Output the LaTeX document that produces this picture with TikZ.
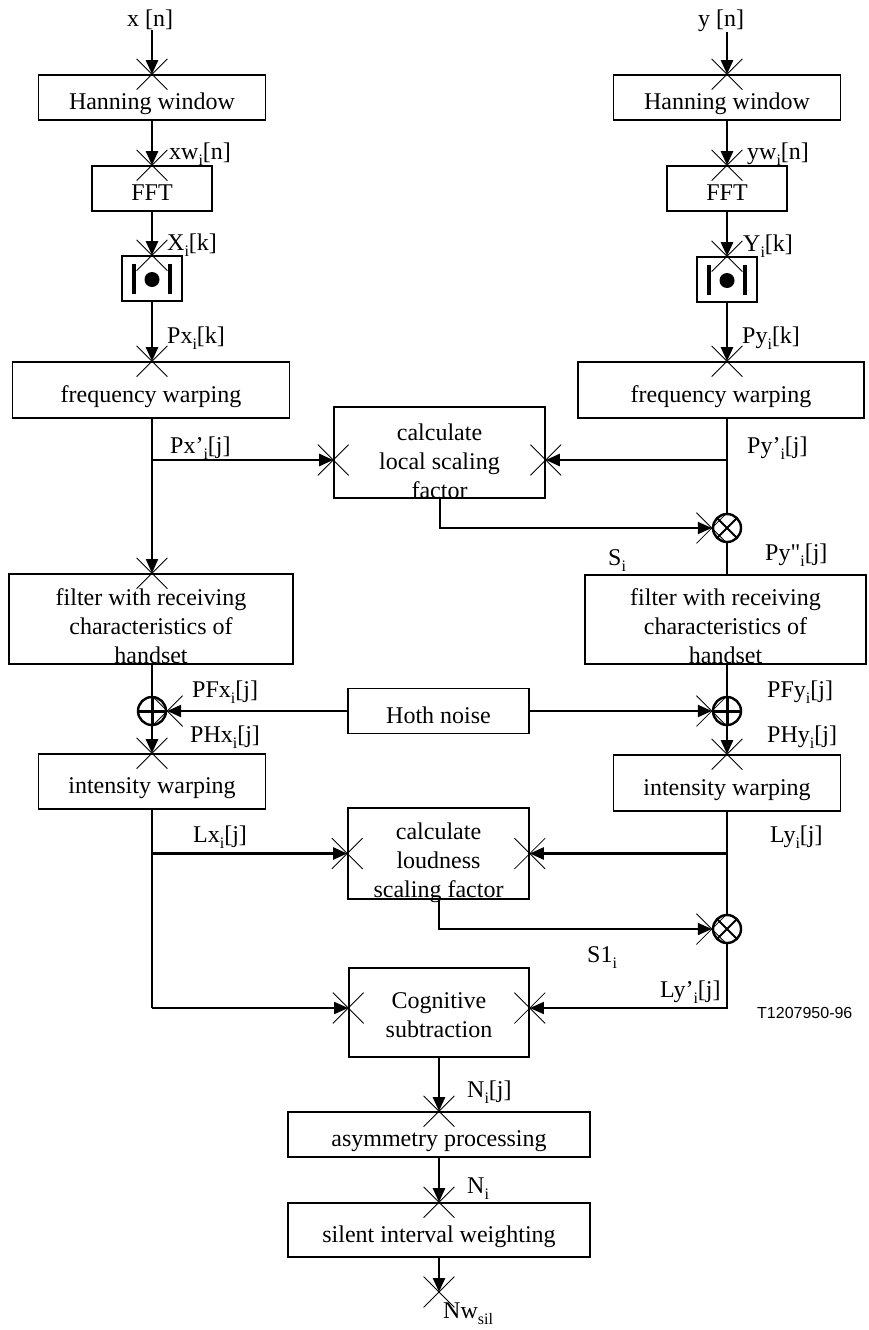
\documentclass[tikz,border=0pt]{standalone}
\usepackage{fontspec}
\setmainfont{Liberation Serif}
\newfontfamily\rawserif[Ligatures=TeXOff]{Liberation Serif}
\newfontfamily\tagfont{Liberation Sans}
\usetikzlibrary{arrows.meta,shapes.misc,calc}

% lowered small index, as in Px_i[k]
\newcommand\sbs[1]{\raisebox{-6pt}{\fontsize{16}{16}\selectfont #1}}

\tikzset{
  txt/.style={font=\fontsize{24}{29}\selectfont},
  box/.style={txt, draw, line width=1.6pt, inner sep=0pt, align=center,
              text height=24pt, text depth=0pt},
  % multi-line text: the box reference point is the last baseline
  multi/.style={text height=#1, text depth=0pt},
  lbl/.style={txt, inner sep=0pt, anchor=base west},
  tip/.style={-{Triangle[length=14pt,width=12pt]}},
  arr/.style={tip, line width=2.4pt},
  medarr/.style={tip, line width=2pt},
  thinarr/.style={tip, line width=1.5pt},
  wire/.style={line width=1.5pt},
  xm/.style={cross out, draw, line width=0.8pt, minimum size=30pt, inner sep=0pt},
  circ/.style={circle, draw, line width=2.4pt, minimum size=28pt, inner sep=0pt},
  mult/.style={circ, path picture={\draw[line width=1.8pt]
      (path picture bounding box.north west) -- (path picture bounding box.south east)
      (path picture bounding box.north east) -- (path picture bounding box.south west);}},
  add/.style={circ, path picture={\draw[line width=3pt]
      (path picture bounding box.north) -- (path picture bounding box.south)
      (path picture bounding box.west) -- (path picture bounding box.east);}},
}

\begin{document}
\begin{tikzpicture}[x=1pt,y=-1pt]
\useasboundingbox (0,0) rectangle (868,1330);
\fill[white] (0,0) rectangle (868,1330);

% ---------- inputs ----------
\node[txt, inner sep=0pt, anchor=base] (xin) at (150,27) {x [n]};
\node[txt, inner sep=0pt, anchor=base] (yin) at (721,27) {y [n]};

% ---------- left branch ----------
\node[box, minimum width=227pt, minimum height=45pt] (hanL) at (152,97.5) {Hanning window};
\node[box, minimum width=120pt, minimum height=45pt] (fftL) at (152,188.5) {FFT};
\node[box, minimum width=60pt, minimum height=45pt] (absL) at (152,278.5) {};
\node[box, minimum width=277pt, minimum height=56pt] (freqL) at (151,390) {frequency warping};
\node[box, multi=88pt, minimum width=284pt, minimum height=90pt] (filL) at (151,619)
  {filter with receiving\\characteristics of\\handset};
\node[add] (plusL) at (152,711) {};
\node[box, minimum width=227pt, minimum height=55pt] (intL) at (152,781.5) {intensity warping};

% ---------- right branch ----------
\node[box, minimum width=227pt, minimum height=45pt] (hanR) at (727,97.5) {Hanning window};
\node[box, minimum width=120pt, minimum height=45pt] (fftR) at (727,188.5) {FFT};
\node[box, minimum width=60pt, minimum height=45pt] (absR) at (727,279.5) {};
\node[box, minimum width=286pt, minimum height=56pt] (freqR) at (721,390) {frequency warping};
\node[mult] (mulU) at (727,528) {};
\node[box, multi=88pt, minimum width=281pt, minimum height=89pt] (filR) at (725.5,619.5)
  {filter with receiving\\characteristics of\\handset};
\node[add] (plusR) at (727,711) {};
\node[box, minimum width=227pt, minimum height=56pt] (intR) at (727,783) {intensity warping};
\node[mult] (mulD) at (727,929) {};

% ---------- middle blocks ----------
\node[box, multi=91pt, minimum width=211pt, minimum height=89pt] (local) at (439.5,452.5)
  {calculate\\local scaling\\factor};
\node[box, minimum width=181pt, minimum height=45pt] (hoth) at (438.5,711) {Hoth noise};
\node[box, multi=87pt, minimum width=181pt, minimum height=91pt] (loud) at (438.5,853.5)
  {calculate\\loudness\\scaling factor};
\node[box, multi=49pt, minimum width=180pt, minimum height=89pt] (cog) at (439,1012.5)
  {Cognitive\\subtraction};
\node[box, minimum width=302pt, minimum height=45pt] (asym) at (439,1134.5) {asymmetry processing};
\node[box, minimum width=302pt, minimum height=54pt] (sil) at (439,1230) {silent interval weighting};
\coordinate (out) at (439,1292);

% magnitude symbols |.|
\foreach \n in {absL,absR} {
  \draw[line width=4pt] ($(\n)+(-18,-15)$) -- ($(\n)+(-18,15)$);
  \draw[line width=4pt] ($(\n)+(18,-15)$) -- ($(\n)+(18,15)$);
  \fill ($(\n)+(0,1)$) circle (7.5pt);
}

% branch points
\coordinate (brL) at (152,460);
\coordinate (brR) at (727,460);
\coordinate (brL2) at (152,853.5);
\coordinate (brR2) at (727,853.5);
\coordinate (cgL) at (152,1008);
\coordinate (cgR) at (727,1008);

% ---------- connectors ----------
\draw[arr] (hanL.north |- xin.south) -- (hanL.north);
\draw[arr] (hanL.south) -- (fftL.north);
\draw[arr] (fftL.south) -- (absL.north);
\draw[arr] (absL.south) -- (absL.south |- freqL.north);
\draw[arr] (hanR.north |- yin.south) -- (hanR.north);
\draw[arr] (hanR.south) -- (fftR.north);
\draw[arr] (fftR.south) -- (absR.north);
\draw[arr] (absR.south) -- (absR.south |- freqR.north);

\draw[wire] (freqL.south -| brL) -- (brL);
\draw[thinarr] (brL) -- (brL |- filL.north);
\draw[arr] (brL) -- (brL -| local.west);
\draw[wire] (freqR.south -| brR) -- (mulU.north);
\draw[arr] (brR) -- (brR -| local.east);
\draw[medarr] (local.south) |- (mulU.west);
\draw[wire] (mulU.south) -- (mulU.south |- filR.north);

\draw[wire] (filL.south -| plusL) -- (plusL.north);
\draw[wire] (filR.south -| plusR) -- (plusR.north);
\draw[arr] (hoth.west) -- (plusL.east);
\draw[arr] (hoth.east) -- (plusR.west);
\draw[arr] (plusL.south) -- (plusL.south |- intL.north);
\draw[arr] (plusR.south) -- (plusR.south |- intR.north);

\draw[wire] (intL.south -| brL2) -- (cgL);
\draw[arr] (brL2) -- (loud.west);
\draw[wire] (intR.south -| brR2) -- (mulD.north);
\draw[arr] (brR2) -- (loud.east);
\draw[medarr] (loud.south) |- (mulD.west);
\draw[thinarr] (cgL) -- (cgL -| cog.west);
\draw[thinarr] (mulD.south) -- (cgR) -- (cgR -| cog.east);

\draw[arr] (cog.south) -- (asym.north);
\draw[arr] (asym.south) -- (sil.north);
\draw[arr] (sil.south) -- (out);

% crosses at every arrow tip
\foreach \p [count=\i] in {hanL.north, fftL.north, absL.north, absL.south |- freqL.north,
    hanR.north, fftR.north, absR.north, absR.south |- freqR.north,
    brL |- filL.north, brL -| local.west, brR -| local.east, mulU.west,
    plusL.east, plusR.west, plusL.south |- intL.north, plusR.south |- intR.north,
    loud.west, loud.east, mulD.west, cgL -| cog.west, cgR -| cog.east,
    asym.north, sil.north, out}
  \node[xm] (xm\i) at (\p) {};

% ---------- signal labels ----------
\node[lbl] (l1) at (169,159) {xw\sbs{i}[n]};
\node[lbl] (l2) at (747,159) {yw\sbs{i}[n]};
\node[lbl] (l3) at (167,250) {X\sbs{i}[k]};
\node[lbl] (l4) at (743,251) {Y\sbs{i}[k]};
\node[lbl] (l5) at (167,343) {Px\sbs{i}[k]};
\node[lbl] (l6) at (742,343) {Py\sbs{i}[k]};
\node[lbl] (l7) at (170,453) {Px'\sbs{i}[j]};
\node[lbl] (l8) at (747,453) {Py'\sbs{i}[j]};
\node[lbl] (l9) at (608,565) {S\sbs{i}};
\node[lbl] (l10) at (765,560) {Py{\rawserif"}\sbs{i}[j]};
\node[lbl] (l11) at (192,697) {PFx\sbs{i}[j]};
\node[lbl] (l12) at (190,742) {PHx\sbs{i}[j]};
\node[lbl] (l13) at (767,697) {PFy\sbs{i}[j]};
\node[lbl] (l14) at (767,742) {PHy\sbs{i}[j]};
\node[lbl] (l15) at (193,842) {Lx\sbs{i}[j]};
\node[lbl] (l16) at (770,842) {Ly\sbs{i}[j]};
\node[lbl] (l17) at (587,962) {S1\sbs{i}};
\node[lbl] (l18) at (660,997) {Ly'\sbs{i}[j]};
\node[lbl] (l19) at (467,1097) {N\sbs{i}[j]};
\node[lbl] (l20) at (467,1193) {N\sbs{i}};
\node[lbl] (l21) at (443,1318) {Nw\sbs{sil}};
\node[inner sep=0pt, anchor=base west, font=\tagfont\fontsize{16}{19}\selectfont] (tag)
  at (757,1018) {T1207950-96};
\end{tikzpicture}
\end{document}
